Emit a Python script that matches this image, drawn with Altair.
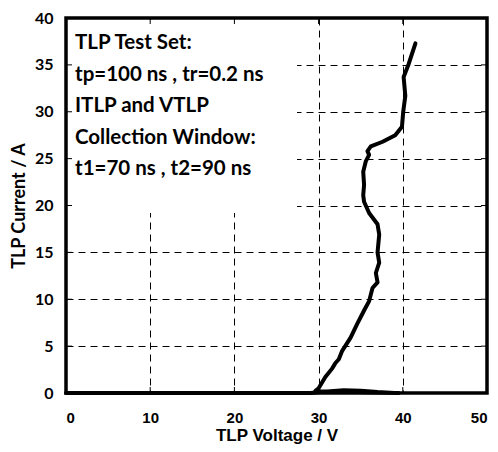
import altair as alt
import pandas as pd

# data
voltage = [0, 10, 20, 29.0, 31.0, 33.0, 35.0, 37.0, 39.0, 39.5,
           29.6, 30.0, 30.8, 31.6, 32.0, 32.4, 32.8, 33.8, 34.6, 35.4, 36.0, 36.4,
           37.0, 36.8, 37.2, 37.0, 37.2, 37.0, 36.0, 35.4, 35.3, 35.4, 35.3,
           35.6, 36.0, 35.8, 36.2, 37.6, 39.1, 39.9, 40.05, 40.3, 40.1, 40.7, 41.5]
current = [0, 0, 0, 0.0, 0.15, 0.3, 0.25, 0.1, 0.0, 0.0,
           0.2, 0.5, 1.7, 2.6, 3.2, 3.6, 4.5, 5.9, 7.4, 8.8, 9.8, 11.2,
           11.8, 12.8, 13.9, 15.0, 16.9, 18.0, 19.2, 20.4, 21.1, 22.2, 23.6,
           24.7, 25.4, 25.8, 26.3, 26.8, 27.5, 28.4, 30.0, 31.7, 33.7, 35.1, 37.3]

x_ticks = [0, 10, 20, 30, 40, 50]
y_ticks = [0, 5, 10, 15, 20, 25, 30, 35, 40]
inner_x = [10, 20, 30, 40]
inner_y = [5, 10, 15, 20, 25, 30, 35]

notes = ["TLP Test Set:", "tp=100 ns , tr=0.2 ns", "ITLP and VTLP",
         "Collection Window:", "t1=70 ns , t2=90 ns"]

W, H = 421, 375

df = pd.DataFrame({"v": voltage, "i": current, "k": range(len(voltage))})
dfx = pd.DataFrame({"v": inner_x})
dfy = pd.DataFrame({"i": inner_y})

xscale = alt.Scale(domain=[0, 50], nice=False)
yscale = alt.Scale(domain=[0, 40], nice=False)

xaxis = alt.Axis(values=x_ticks, title="TLP Voltage / V", grid=True, domain=False,
                 ticks=False, labelPadding=17, titlePadding=2, format="d",
                 labelFont="Liberation Sans", labelFontSize=15,
                 titleFont="Liberation Sans", titleFontSize=17)
yaxis = alt.Axis(values=y_ticks, title="TLP Current / A", grid=True, domain=False,
                 ticks=False, labelPadding=13, titlePadding=6, format="d",
                 labelFont="Lato", labelFontSize=16,
                 titleFont="Lato", titleFontSize=18)

base = alt.Chart(df)

grid = base.mark_point(opacity=0).encode(
    x=alt.X("v:Q", scale=xscale, axis=xaxis),
    y=alt.Y("i:Q", scale=yscale, axis=yaxis),
)

box = alt.Chart(pd.DataFrame({"a": [0]})).mark_rect(color="white").encode(
    x=alt.value(0), x2=alt.value(231), y=alt.value(2), y2=alt.value(195)
)

line = base.mark_line(color="black", strokeWidth=4, strokeJoin="round", strokeCap="round").encode(
    x="v:Q", y="i:Q", order="k:Q"
)

tb = alt.Chart(dfx).mark_rule(color="black", strokeWidth=1).encode(
    x="v:Q", y=alt.value(H), y2=alt.value(H - 6))
tt = alt.Chart(dfx).mark_rule(color="black", strokeWidth=1).encode(
    x="v:Q", y=alt.value(0), y2=alt.value(6))
tl = alt.Chart(dfy).mark_rule(color="black", strokeWidth=1).encode(
    y="i:Q", x=alt.value(0), x2=alt.value(6))
tr = alt.Chart(dfy).mark_rule(color="black", strokeWidth=1).encode(
    y="i:Q", x=alt.value(W), x2=alt.value(W - 6))

texts = []
for n, t in enumerate(notes):
    texts.append(
        alt.Chart(pd.DataFrame({"t": [t]})).mark_text(
            align="left", baseline="middle", font="Lato", fontWeight="bold",
            fontSize=20.5, color="black"
        ).encode(text="t:N", x=alt.value(9), y=alt.value(25 + n * 31.5))
    )

border = alt.Chart(pd.DataFrame({"a": [0]})).mark_rect(
    fill=None, stroke="black", strokeWidth=3.5
).encode(x=alt.value(0), x2=alt.value(W), y=alt.value(0), y2=alt.value(H))

chart = alt.layer(grid, box, line, tb, tt, tl, tr, *texts, border).properties(
    width=W, height=H,
    autosize=alt.AutoSizeParams(type="none"),
    padding={"left": 58, "top": 10, "right": 2, "bottom": 58},
).configure_view(stroke=None).configure_axis(
    gridColor="black", gridDash=[7, 5], gridWidth=1, gridOpacity=1,
    labelFontWeight="bold", labelColor="black",
    titleFontWeight="bold", titleColor="black",
)

chart.save("out.html", embed_options={"renderer": "svg", "actions": False})
